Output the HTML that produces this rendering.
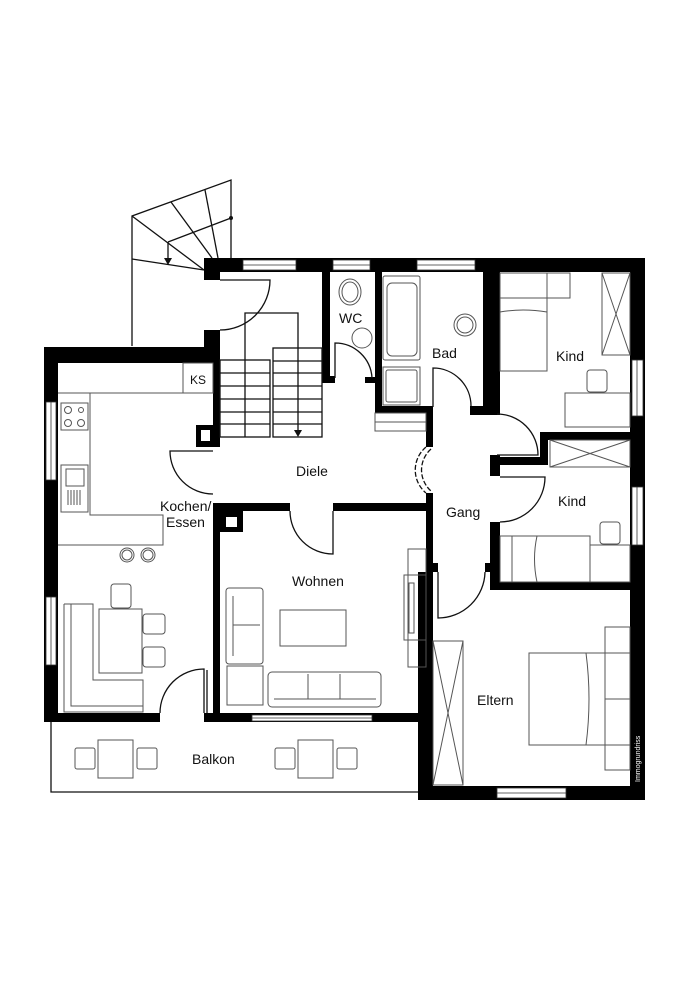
<!DOCTYPE html>
<html><head><meta charset="utf-8"><style>
html,body{margin:0;padding:0;background:#fff;}
svg{display:block;}
text{font-family:"Liberation Sans",Arial,sans-serif;font-size:14px;fill:#111;}
.t{fill:none;stroke:#111;stroke-width:1.3;}
.g{fill:#fff;stroke:#555;stroke-width:1;}
.gl{fill:none;stroke:#555;stroke-width:1;}
.w{fill:#fff;stroke:#333;stroke-width:0.8;}
</style></head><body>
<svg width="700" height="991" viewBox="0 0 700 991" xmlns="http://www.w3.org/2000/svg">
<rect width="700" height="991" fill="#fff"/>

<!-- exterior spiral stair -->
<g class="t">
<polyline points="132,346 132,216 231,180 231,258"/>
<line x1="132" y1="216" x2="204" y2="270"/>
<line x1="132" y1="259" x2="204" y2="270"/>
<line x1="171" y1="202" x2="212" y2="258"/>
<line x1="205" y1="190" x2="218" y2="258"/>
<line x1="168" y1="242" x2="231" y2="218"/>
<line x1="168" y1="242" x2="168" y2="262"/>
</g>
<circle cx="231" cy="218" r="2" fill="#111"/>
<polygon points="164,258 172,258 168,265" fill="#111"/>

<!-- Balkon -->
<polyline class="t" points="51,722 51,792 418,792"/>

<!-- walls -->
<g fill="#000">
<rect x="204" y="258" width="441" height="14"/>
<rect x="204" y="258" width="16" height="22"/>
<rect x="204" y="330" width="16" height="33"/>
<rect x="44" y="347" width="176" height="16"/>
<rect x="44" y="347" width="14" height="375"/>
<rect x="213" y="347" width="7" height="98"/>
<rect x="196" y="425" width="24" height="22"/>
<rect x="322" y="272" width="8" height="111"/>
<rect x="328" y="376" width="7" height="7"/>
<rect x="375" y="272" width="7" height="141"/>
<rect x="365" y="377" width="12" height="6"/>
<rect x="375" y="406" width="58" height="7"/>
<rect x="426" y="406" width="7" height="41"/>
<rect x="426" y="493" width="7" height="80"/>
<rect x="418" y="572" width="15" height="228"/>
<rect x="433" y="563" width="5" height="9"/>
<rect x="483" y="258" width="17" height="157"/>
<rect x="470" y="406" width="30" height="9"/>
<rect x="630" y="258" width="15" height="542"/>
<rect x="418" y="786" width="227" height="14"/>
<rect x="540" y="432" width="90" height="8"/>
<rect x="540" y="432" width="8" height="33"/>
<rect x="497" y="457" width="51" height="8"/>
<rect x="490" y="455" width="10" height="21"/>
<rect x="490" y="522" width="10" height="68"/>
<rect x="485" y="563" width="15" height="9"/>
<rect x="490" y="582" width="155" height="8"/>
<rect x="213" y="503" width="77" height="8"/>
<rect x="333" y="503" width="100" height="8"/>
<rect x="213" y="503" width="7" height="219"/>
<rect x="220" y="511" width="23" height="21"/>
<rect x="44" y="713" width="116" height="9"/>
<rect x="204" y="713" width="214" height="9"/>
</g>
<rect x="226" y="517" width="11" height="10" fill="#fff"/>
<rect x="201" y="430" width="9" height="11" fill="#fff"/>

<!-- windows -->
<g class="w">
<rect x="243" y="260" width="53" height="10"/><line x1="243" y1="265" x2="296" y2="265"/>
<rect x="333" y="260" width="37" height="10"/><line x1="333" y1="265" x2="370" y2="265"/>
<rect x="417" y="260" width="58" height="10"/><line x1="417" y1="265" x2="475" y2="265"/>
<rect x="46" y="402" width="10" height="78"/><line x1="51" y1="402" x2="51" y2="480"/>
<rect x="46" y="597" width="10" height="68"/><line x1="51" y1="597" x2="51" y2="665"/>
<rect x="252" y="715" width="120" height="6"/><line x1="252" y1="718" x2="372" y2="718"/>
<rect x="632" y="360" width="11" height="56"/><line x1="637" y1="360" x2="637" y2="416"/>
<rect x="632" y="487" width="11" height="58"/><line x1="637" y1="487" x2="637" y2="545"/>
<rect x="497" y="788" width="69" height="10"/><line x1="497" y1="793" x2="566" y2="793"/>
</g>

<!-- inner stairs -->
<g class="t" stroke-width="1">
<rect x="220" y="360" width="50" height="77"/>
<rect x="273" y="348" width="49" height="89"/>
<line x1="220" y1="373" x2="270" y2="373"/><line x1="220" y1="386" x2="270" y2="386"/>
<line x1="220" y1="399" x2="270" y2="399"/><line x1="220" y1="412" x2="270" y2="412"/>
<line x1="220" y1="424" x2="270" y2="424"/>
<line x1="273" y1="361" x2="322" y2="361"/><line x1="273" y1="373" x2="322" y2="373"/>
<line x1="273" y1="386" x2="322" y2="386"/><line x1="273" y1="399" x2="322" y2="399"/>
<line x1="273" y1="412" x2="322" y2="412"/><line x1="273" y1="424" x2="322" y2="424"/>
<polyline points="245,437 245,313 298,313 298,432"/>
</g>
<polygon points="294,430 302,430 298,437" fill="#111"/>

<!-- doors -->
<g class="t">
<path d="M220,280 H270 A50,50 0 0 1 220,330"/>
<path d="M335,378 V343 A37,37 0 0 1 372,378"/>
<path d="M433,407 V368 A38,38 0 0 1 471,406"/>
<path d="M497,414 A41,41 0 0 1 538,455 H497"/>
<path d="M500,477 H545 A45,45 0 0 1 500,522"/>
<path d="M438,572 V618 A47,47 0 0 0 485,572"/>
<path d="M213,451 H170 A43,43 0 0 0 213,494"/>
<path d="M333,511 V554 A43,43 0 0 1 290,511"/>
<path d="M204,713 V669 A44,44 0 0 0 160,713"/>
<path d="M207,713 V670"/>
<path d="M426,447 A30,30 0 0 0 426,493" stroke-dasharray="5,2"/>
<path d="M431,449 A28,28 0 0 0 431,491" stroke-dasharray="5,2"/>
</g>

<!-- kitchen -->
<g class="gl">
<polyline points="213,393 90,393 90,515 163,515 163,545 58,545"/>
<line x1="58" y1="393" x2="90" y2="393"/>
<rect x="183" y="363" width="30" height="30"/>
<rect x="61" y="403" width="27" height="27"/>
<rect x="61" y="465" width="27" height="47"/>
<rect x="66" y="469" width="18" height="17"/>
</g>
<g fill="none" stroke="#555" stroke-width="1">
<circle cx="68" cy="410" r="3.5"/><circle cx="81" cy="410" r="2.5"/>
<circle cx="68" cy="423" r="3.5"/><circle cx="81" cy="423" r="3.5"/>
<path d="M68,490 V505 M71,490 V505 M74,490 V505 M77,490 V505 M80,490 V505"/>
<circle cx="127" cy="555" r="7"/><circle cx="148" cy="555" r="7"/>
<circle cx="127" cy="555" r="5"/><circle cx="148" cy="555" r="5"/>
<rect x="99" y="609" width="43" height="64"/>
<rect x="111" y="584" width="20" height="24" rx="3"/>
<rect x="143" y="614" width="22" height="20" rx="3"/>
<rect x="143" y="647" width="22" height="20" rx="3"/>
<polyline points="64,604 64,712 143,712 143,680 93,680 93,604 64,604"/>
<polyline points="71,604 71,706 143,706"/>
</g>
<text x="190" y="384" style="font-size:12px">KS</text>
<text x="160" y="511">Kochen/</text>
<text x="166" y="527">Essen</text>

<!-- Diele -->
<rect x="375" y="413" width="51" height="18" class="gl"/>
<line x1="375" y1="422" x2="426" y2="422" class="gl"/>
<text x="296" y="476">Diele</text>
<text x="446" y="517">Gang</text>

<!-- WC / Bad -->
<g class="gl">
<ellipse cx="350" cy="292" rx="11" ry="13"/><ellipse cx="350" cy="292" rx="8" ry="10"/>
<circle cx="362" cy="338" r="10"/>
<rect x="383" y="276" width="37" height="84" rx="2"/>
<rect x="387" y="283" width="30" height="73" rx="5"/>
<rect x="383" y="367" width="37" height="38"/>
<rect x="386" y="370" width="31" height="32" rx="2"/>
<circle cx="465" cy="325" r="11"/><circle cx="465" cy="325" r="8"/>
</g>
<text x="339" y="323">WC</text>
<text x="432" y="358">Bad</text>

<!-- Kind 1 -->
<g class="gl">
<rect x="500" y="273" width="47" height="98"/>
<line x1="500" y1="298" x2="547" y2="298"/>
<path d="M500,312 Q523,308 547,312"/>
<rect x="547" y="273" width="23" height="25"/>
<rect x="602" y="273" width="28" height="82"/>
<path d="M602,273 L630,355 M630,273 L602,355"/>
<rect x="565" y="393" width="65" height="34"/>
<rect x="587" y="370" width="20" height="22" rx="3"/>
</g>
<text x="556" y="361">Kind</text>

<!-- Kind 2 -->
<g class="gl">
<rect x="550" y="440" width="80" height="27"/>
<path d="M550,440 L630,467 M630,440 L550,467"/>
<rect x="500" y="536" width="90" height="46"/>
<line x1="512" y1="536" x2="512" y2="582"/>
<path d="M537,536 Q532,559 537,582"/>
<rect x="590" y="545" width="40" height="37"/>
<rect x="600" y="522" width="20" height="22" rx="3"/>
</g>
<text x="558" y="506">Kind</text>

<!-- Wohnen -->
<g class="gl">
<rect x="226" y="588" width="37" height="76" rx="3"/>
<line x1="233" y1="596" x2="233" y2="656"/>
<line x1="233" y1="625" x2="260" y2="625"/>
<rect x="227" y="666" width="36" height="39"/>
<rect x="268" y="672" width="113" height="35" rx="4"/>
<line x1="274" y1="699" x2="376" y2="699"/>
<line x1="308" y1="674" x2="308" y2="699"/><line x1="340" y1="674" x2="340" y2="699"/>
<rect x="280" y="610" width="66" height="36"/>
<rect x="404" y="575" width="22" height="65"/>
<rect x="409" y="583" width="5" height="50"/>
<rect x="408" y="549" width="18" height="118"/>
</g>
<text x="292" y="586">Wohnen</text>

<!-- Eltern -->
<g class="gl">
<rect x="433" y="641" width="30" height="144"/>
<path d="M433,641 L463,785 M463,641 L433,785"/>
<rect x="529" y="653" width="101" height="92"/>
<path d="M586,653 Q592,699 586,745"/>
<line x1="605" y1="653" x2="605" y2="745"/>
<line x1="605" y1="699" x2="630" y2="699"/>
<rect x="605" y="627" width="25" height="26"/>
<rect x="605" y="745" width="25" height="25"/>
</g>
<text x="477" y="705">Eltern</text>
<text x="0" y="0" style="fill:#fff;font-size:7px" transform="translate(640,782) rotate(-90)">Immogrundriss</text>

<!-- Balkon furniture -->
<g class="gl">
<rect x="98" y="740" width="35" height="38"/>
<rect x="75" y="748" width="20" height="21" rx="2"/>
<rect x="137" y="748" width="20" height="21" rx="2"/>
<rect x="298" y="740" width="35" height="38"/>
<rect x="275" y="748" width="20" height="21" rx="2"/>
<rect x="337" y="748" width="20" height="21" rx="2"/>
</g>
<text x="192" y="764">Balkon</text>
</svg>
</body></html>
